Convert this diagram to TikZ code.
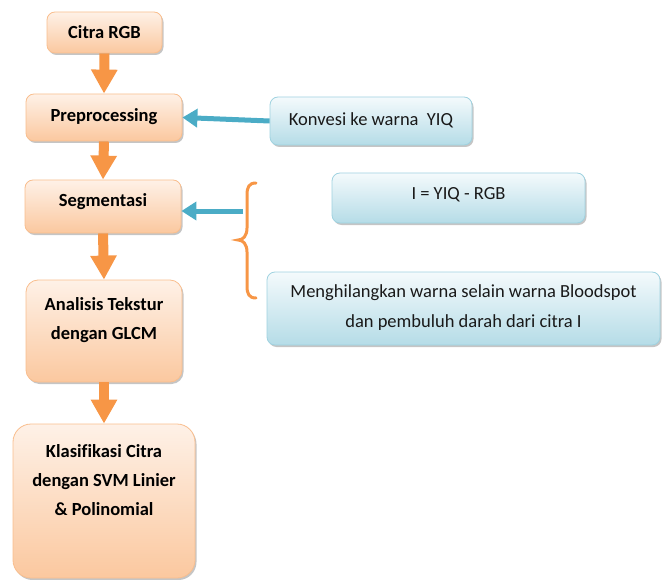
\documentclass[tikz,border=0pt]{standalone}
\usepackage{fontspec}
\setmainfont{Carlito}
\usetikzlibrary{arrows.meta,shadows}
\definecolor{obord}{HTML}{F9BE8E}
\definecolor{otop}{HTML}{FEF1E7}
\definecolor{obot}{HTML}{FBC89F}
\definecolor{btop}{HTML}{F4FAFC}
\definecolor{bbot}{HTML}{B5DCE7}
\definecolor{bbord}{HTML}{9FD2E0}
\definecolor{oarrow}{HTML}{F79646}
\definecolor{barrow}{HTML}{4BACC6}
\tikzset{
  obox/.style={draw=obord, line width=0.8pt, rounded corners=#1, top color=otop, bottom color=obot,
    drop shadow={shadow xshift=1.5pt, shadow yshift=-2pt, fill=black!45, opacity=0.5}},
  obox/.default=8pt,
  bbox/.style={draw=bbord, line width=0.8pt, rounded corners=8pt, top color=btop, bottom color=bbot,
    drop shadow={shadow xshift=1.5pt, shadow yshift=-2pt, fill=black!45, opacity=0.5}},
  otext/.style={font=\fontsize{18.5}{29}\selectfont\bfseries, align=center, text=black},
  btext/.style={font=\fontsize{18.5}{30}\selectfont, align=center, text=black!90},
  oarr/.style={draw=oarrow, line width=10pt, -{Triangle[width=25pt,length=24pt]}},
  barr/.style={draw=barrow, line width=5pt, -{Triangle[width=18pt,length=15pt]}},
}
\begin{document}
\begin{tikzpicture}[x=1pt,y=-1pt]
\useasboundingbox (0,0) rectangle (666,580);
% orange boxes
\node[obox, minimum width=115pt, minimum height=41pt, inner sep=0pt] (citra) at (104.5,32.5) {};
\node[otext] (citraT) at (104.5,32.5) {Citra RGB};
\node[obox, minimum width=156pt, minimum height=47pt, inner sep=0pt] (pre) at (104,117.5) {};
\node[otext] (preT) at (104,117) {Preprocessing};
\node[obox, minimum width=156pt, minimum height=53pt, inner sep=0pt] (seg) at (103,206.5) {};
\node[otext] (segT) at (103,202) {Segmentasi};
\node[obox=12pt, minimum width=156pt, minimum height=102pt, inner sep=0pt] (ana) at (104,331) {};
\node[otext] (anaT) at (104,320) {Analisis Tekstur\\dengan GLCM};
\node[obox=18pt, minimum width=182pt, minimum height=154pt, inner sep=0pt] (kla) at (104,501) {};
\node[otext] (klaT) at (104,480) {Klasif\kern0pt ikasi Citra\\dengan SVM Linier\\\& Polinomial};
% blue boxes
\node[bbox, minimum width=202pt, minimum height=48pt, inner sep=0pt] (konv) at (371,121) {};
\node[btext] (konvT) at (371,120) {Konvesi ke warna\ \ YIQ};
\node[bbox, minimum width=253pt, minimum height=50pt, inner sep=0pt] (iyiq) at (458.5,198) {};
\node[btext] (iyiqT) at (458.5,195) {I = YIQ - RGB};
\node[bbox, minimum width=393pt, minimum height=73pt, inner sep=0pt] (meng) at (463.5,308.5) {};
\node[btext] (mengT) at (463.5,308) {Menghilangkan warna selain warna Bloodspot\\dan pembuluh darah dari citra I};
% orange arrows
\draw[oarr] (citra.south) -- (pre.north);
\draw[oarr] (pre.south) -- (seg.north);
\draw[oarr] (seg.south) -- (ana.north);
\draw[oarr] (ana.south) -- (kla.north);
% blue arrows
\draw[barr] (konv.west) -- (pre.east);
\coordinate (bs) at (243,211);
\draw[barr] (bs) -- (seg.east |- bs);
% brace
\coordinate (brTop) at (256,183);
\coordinate (brTip) at (238,240);
\coordinate (brBot) at (256,298);
\draw[draw=oarrow, line width=3pt, line cap=round]
  (brTop) .. controls (249,183) and (247,187) .. (247,195) -- (247,228)
  .. controls (247,236) and (243,240) .. (brTip)
  .. controls (243,240) and (247,244) .. (247,252) -- (247,286)
  .. controls (247,294) and (249,298) .. (brBot);
\end{tikzpicture}
\end{document}
